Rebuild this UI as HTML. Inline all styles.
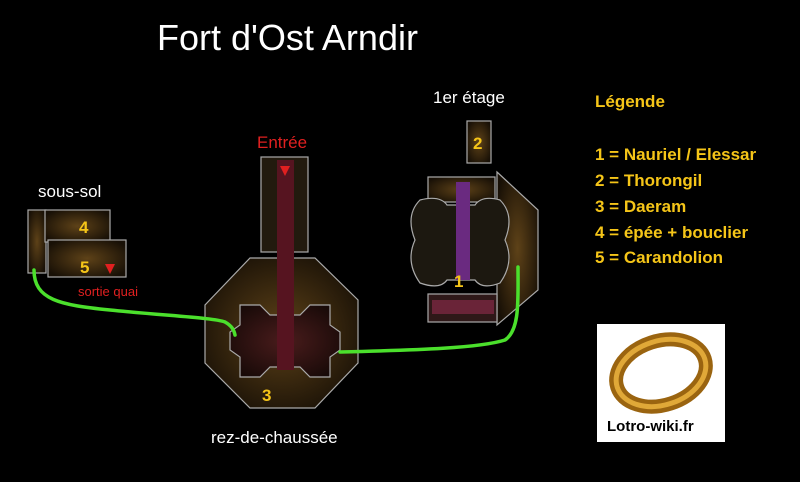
<!DOCTYPE html>
<html><head><style>
body{margin:0;background:#000;width:800px;height:482px;overflow:hidden;position:relative;font-family:"Liberation Sans",sans-serif}
.t{position:absolute;color:#fff;white-space:nowrap}
.y{position:absolute;color:#f5c518;font-weight:bold;white-space:nowrap;font-size:17px}
</style></head><body>
<svg width="800" height="482" style="position:absolute;left:0;top:0">
<defs>
<radialGradient id="g" cx="50%" cy="50%" r="60%"><stop offset="0" stop-color="#5e4218"/><stop offset="1" stop-color="#181006"/></radialGradient>
<radialGradient id="g2" cx="50%" cy="50%" r="60%"><stop offset="0" stop-color="#4a1c1c"/><stop offset="1" stop-color="#180a08"/></radialGradient>
</defs>
<g stroke="#aaa" stroke-width="1.2">
<polygon points="250,258 315,258 358,300 358,363 315,408 250,408 205,363 205,305" fill="url(#g)"/>
<rect x="261" y="157" width="47" height="95" fill="#221a0e"/>
<path d="M240,305 L260,305 L270,315 L300,315 L310,305 L330,305 L330,325 L340,332 L340,350 L330,357 L330,377 L310,377 L300,367 L270,367 L260,377 L240,377 L240,357 L230,350 L230,332 L240,325Z" fill="url(#g2)"/>
<rect x="28" y="210" width="18" height="63" fill="url(#g)"/>
<rect x="45" y="210" width="65" height="32" fill="url(#g)"/>
<rect x="48" y="240" width="78" height="37" fill="url(#g)"/>
<rect x="467" y="121" width="24" height="42" fill="url(#g)"/>
<rect x="428" y="177" width="67" height="25" fill="url(#g)"/>
<polygon points="497,172 538,210 538,290 497,325" fill="url(#g)"/>
<path d="M420,200 Q440,195 447,205 L475,205 Q482,195 500,200 Q515,215 505,240 Q515,262 500,283 Q482,290 475,280 L447,280 Q440,290 420,283 Q405,262 415,240 Q405,215 420,200Z" fill="#1c1810"/>
<rect x="428" y="294" width="69" height="28" fill="#2e1818"/>
</g>
<rect x="277" y="160" width="17" height="210" fill="#561420"/>
<rect x="456" y="182" width="14" height="98" fill="#6a2a80"/>
<rect x="432" y="300" width="62" height="14" fill="#6a2438"/>
<path d="M280,166 L290,166 L285,176Z" fill="#e02020"/>
<path d="M105,264 L115,264 L110,274Z" fill="#e02020"/>
<g fill="none" stroke="#4be02c" stroke-width="3.5" stroke-linecap="round">
<path d="M34,270 C34,300 60,305 110,310 C170,316 215,318 225,322 C232,326 234,330 235,335"/>
<path d="M340,352 C420,350 480,348 505,340 C520,330 518,300 518,267"/>
</g>
<rect x="597" y="324" width="128" height="118" fill="#fff"/>
<ellipse cx="661" cy="373" rx="46" ry="32" fill="none" stroke="#9a6410" stroke-width="14" transform="rotate(-18 661 373)"/>
<ellipse cx="661" cy="373" rx="46" ry="32" fill="none" stroke="#e0a838" stroke-width="5" transform="rotate(-18 661 373)"/>
</svg>
<div class="t" style="left:157px;top:17px;font-size:36px">Fort d'Ost Arndir</div>
<div class="t" style="left:433px;top:88px;font-size:17px">1er étage</div>
<div class="t" style="left:257px;top:133px;font-size:17px;color:#e02020">Entrée</div>
<div class="t" style="left:38px;top:182px;font-size:17px">sous-sol</div>
<div class="t" style="left:78px;top:284px;font-size:13px;color:#e02020">sortie quai</div>
<div class="t" style="left:211px;top:428px;font-size:17px">rez-de-chaussée</div>
<div class="y" style="left:79px;top:218px">4</div>
<div class="y" style="left:80px;top:258px">5</div>
<div class="y" style="left:262px;top:386px">3</div>
<div class="y" style="left:473px;top:134px">2</div>
<div class="y" style="left:454px;top:272px">1</div>
<div class="y" style="left:595px;top:92px">Légende</div>
<div class="y" style="left:595px;top:145px">1 = Nauriel / Elessar</div>
<div class="y" style="left:595px;top:171px">2 = Thorongil</div>
<div class="y" style="left:595px;top:197px">3 = Daeram</div>
<div class="y" style="left:595px;top:223px">4 = épée + bouclier</div>
<div class="y" style="left:595px;top:248px">5 = Carandolion</div>
<div class="t" style="left:607px;top:418px;font-size:15px;color:#000;font-weight:bold">Lotro-wiki.fr</div>
</body></html>
